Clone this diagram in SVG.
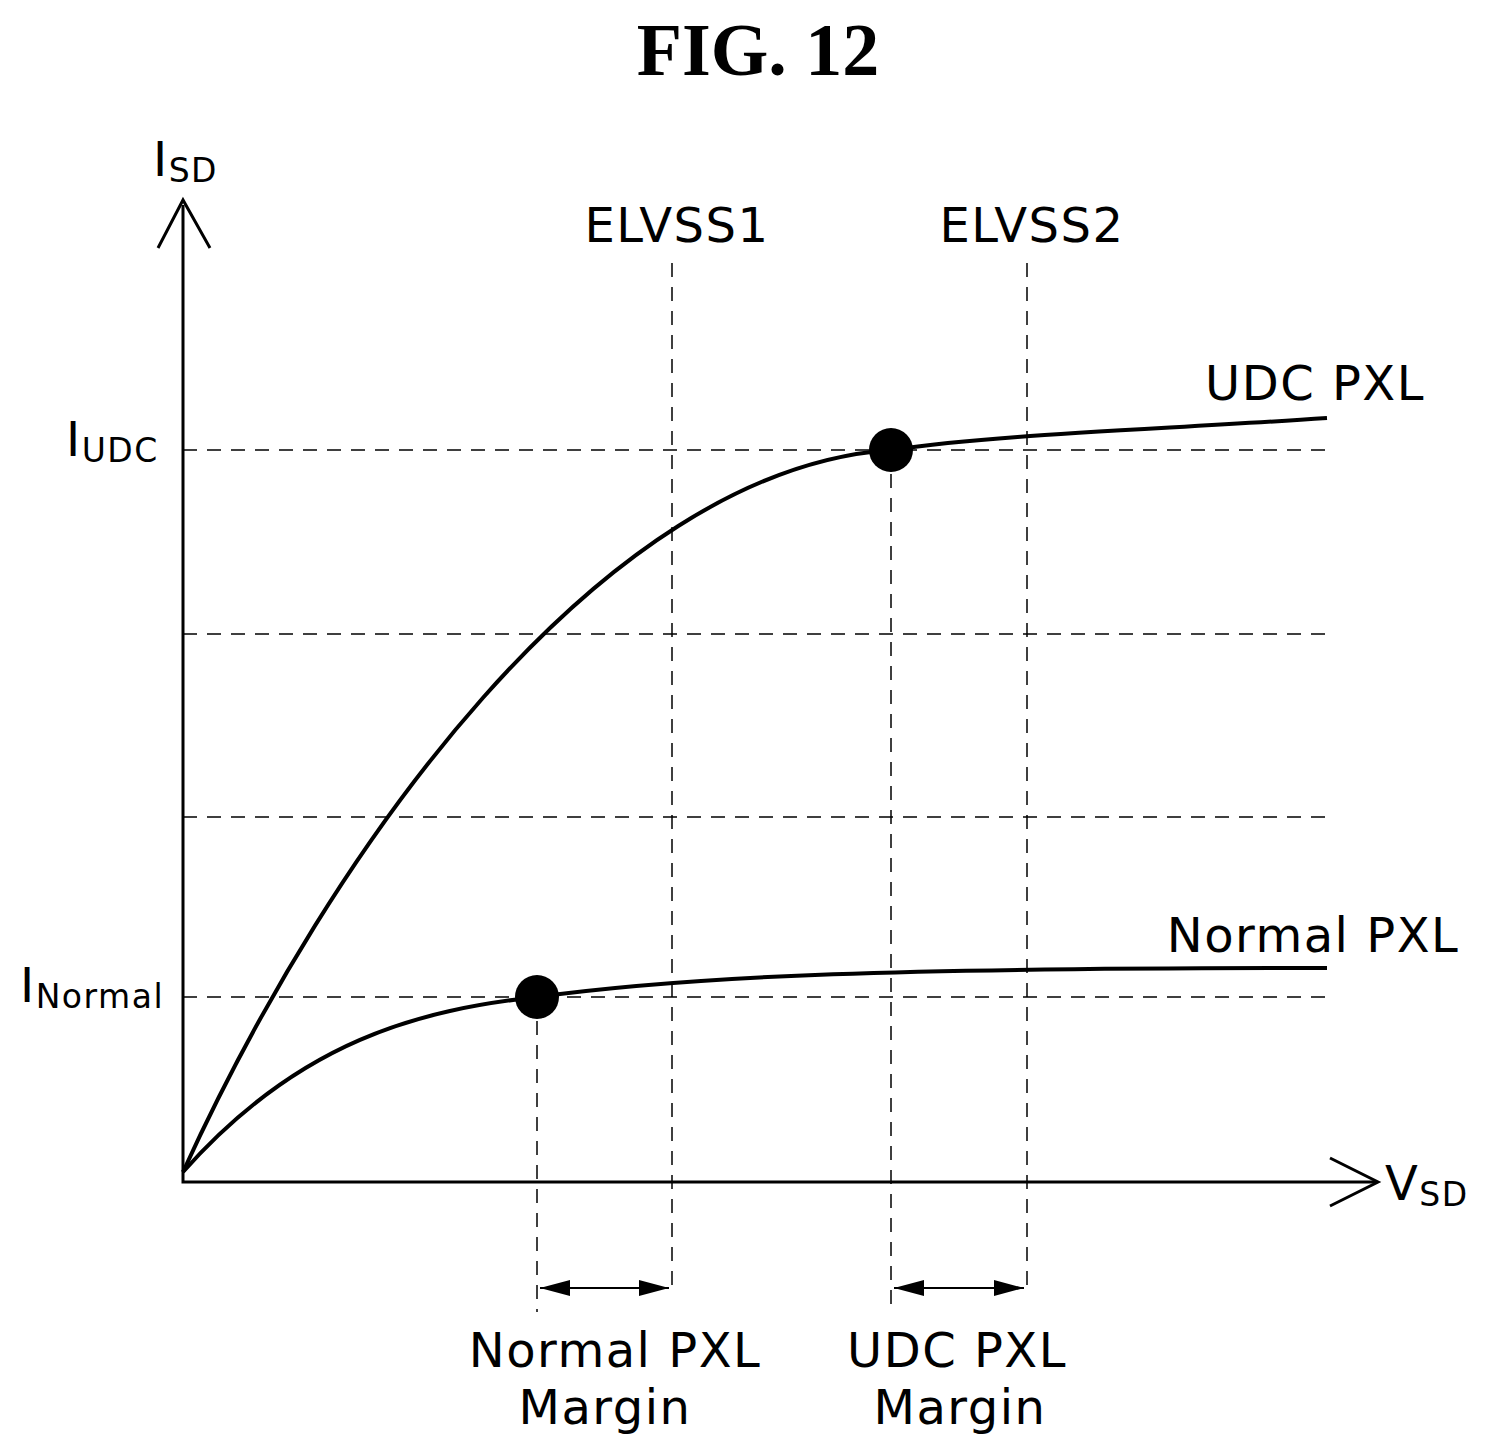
<svg xmlns="http://www.w3.org/2000/svg" width="1493" height="1455" viewBox="0 0 1493 1455">
<style>
.t{font-family:"DejaVu Sans",Verdana,sans-serif;font-size:48px;letter-spacing:1.5px;fill:#000}
.s{font-size:33px}
.d{stroke:#000;stroke-width:1.5;stroke-dasharray:14 10;fill:none}
.c{stroke:#000;stroke-width:4;fill:none}
.a{stroke:#000;stroke-width:3;fill:none}
</style>
<defs>
<marker id="ah" viewBox="0 0 30 16" refX="30" refY="8" markerWidth="30" markerHeight="16" orient="auto-start-reverse" markerUnits="userSpaceOnUse"><path d="M0,0 L30,8 L0,16 z" fill="#000"/></marker>
</defs>
<rect width="1493" height="1455" fill="#fff"/>
<text x="758" y="75" text-anchor="middle" font-family="Liberation Serif,serif" font-weight="bold" font-size="74">FIG. 12</text>
<g id="grid">
<path class="d" d="M183 450H1330M183 634H1330M183 817H1330M183 997H1330"/>
<path class="d" d="M672 263V1290M1027 263V1290M537 997V1312M891 450V1312"/>
</g>
<g id="axes">
<path class="a" d="M183 205V1182H1376"/>
<path class="a" d="M158 248L183 200L210 248"/>
<path class="a" d="M1330 1158L1378 1182L1330 1206"/>
</g>
<g id="curves">
<path class="c" d="M183 1172C330 850 600 470 891 450C1000 434 1150 430 1327 418"/>
<path class="c" d="M183 1172C300 1040 420 1010 537 997C700 975 900 968 1327 968"/>
<circle cx="891" cy="450" r="22"/>
<circle cx="537" cy="997" r="22"/>
</g>
<g id="connectors">
<line x1="540" y1="1288" x2="669" y2="1288" stroke="#000" stroke-width="2" marker-start="url(#ah)" marker-end="url(#ah)"/>
<line x1="894" y1="1288" x2="1024" y2="1288" stroke="#000" stroke-width="2" marker-start="url(#ah)" marker-end="url(#ah)"/>
</g>
<g id="labels">
<text class="t" x="153" y="176">I<tspan class="s" dy="6">SD</tspan></text>
<text class="t" x="1385" y="1200">V<tspan class="s" dy="6">SD</tspan></text>
<text class="t" x="66" y="456">I<tspan class="s" dy="6">UDC</tspan></text>
<text class="t" x="20" y="1002">I<tspan class="s" dy="6">Normal</tspan></text>
<text class="t" x="677" y="242" text-anchor="middle">ELVSS1</text>
<text class="t" x="1032" y="242" text-anchor="middle">ELVSS2</text>
<text class="t" x="1315" y="400" text-anchor="middle">UDC PXL</text>
<text class="t" x="1313" y="952" text-anchor="middle">Normal PXL</text>
<text class="t" x="615" y="1367" text-anchor="middle">Normal PXL</text>
<text class="t" x="605" y="1424" text-anchor="middle">Margin</text>
<text class="t" x="957" y="1367" text-anchor="middle">UDC PXL</text>
<text class="t" x="960" y="1424" text-anchor="middle">Margin</text>
</g>
</svg>
